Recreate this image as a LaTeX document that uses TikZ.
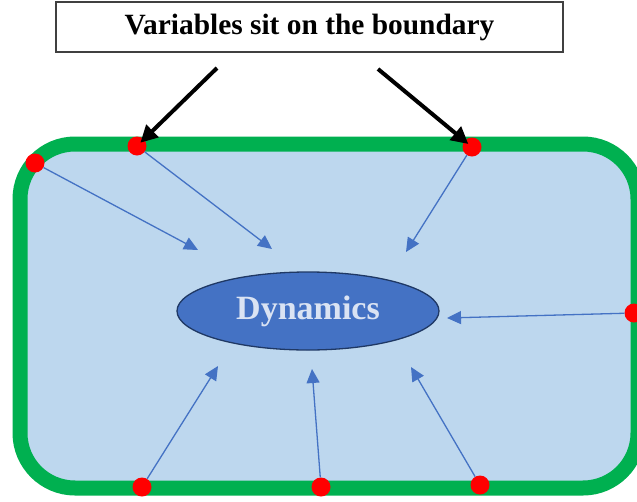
\documentclass[tikz,border=0pt]{standalone}
\usepackage{fontspec}
\setmainfont{Liberation Serif}
\usepackage{tikz}
\usepackage{xcolor}
\usetikzlibrary{arrows.meta,calc,positioning,shapes.geometric}
\definecolor{wallgreen}{HTML}{00B050}
\definecolor{bulkfill}{HTML}{BDD7EE}
\definecolor{accent}{HTML}{4472C4}
\definecolor{navy}{HTML}{1F3864}
\definecolor{paletext}{HTML}{DAE3F3}

\begin{document}
\begin{tikzpicture}[
          x=1pt, y=-1pt,
          varpt/.style={circle, fill=red, minimum size=19pt, inner sep=0pt},
          flow/.style={accent, line width=1.3pt, -{Triangle[length=14pt, width=13pt]}},
          pointer/.style={black, line width=4pt, shorten >=-5pt, -{Triangle[length=17pt, width=17pt]}},
          titlebox/.style={draw=black!75, line width=1.5pt, fill=white, minimum width=507pt, minimum height=50pt, inner sep=0pt, font=\fontsize{29.4}{34}\selectfont\bfseries},
          core/.style={ellipse, draw=navy, line width=1.3pt, fill=accent, minimum width=262pt, minimum height=78pt, inner sep=0pt, text=paletext, font=\fontsize{34}{40}\selectfont\bfseries}
      ]
        \useasboundingbox (0,0) rectangle (637,501);
        % bulk with its boundary
        \draw[wallgreen, line width=15pt, fill=bulkfill, rounded corners=55pt] (20,144) rectangle (638,488);
        \node[core] (dyn) at (308,311) {Dynamics};
        \node[titlebox] (title) at (309.5,27) {Variables sit on the boundary};

        % variables on the boundary
        \node[varpt] (var1) at (35,163) {};
        \node[varpt] (var2) at (137,146) {};
        \node[varpt] (var3) at (472,147) {};
        \node[varpt] (var4) at (634,313) {};
        \node[varpt] (var5) at (142,487) {};
        \node[varpt] (var6) at (321,487) {};
        \node[varpt] (var7) at (480,485) {};

        \coordinate (tip1) at (198,250);
        \coordinate (tip2) at (272,249);
        \coordinate (tip3) at (406,252);
        \coordinate (tip4) at (447,318);
        \coordinate (tip5) at (218,366);
        \coordinate (tip6) at (312,369);
        \coordinate (tip7) at (411,367);
        \foreach \i in {1,...,7}
          \draw[flow] (var\i) -- (tip\i);

        % pointers from the title
        \coordinate (from1) at (217,68);
        \coordinate (from2) at (378,69);
        \draw[pointer] (from1) -- (var2);
        \draw[pointer] (from2) -- (var3);
      \end{tikzpicture}
\end{document}
